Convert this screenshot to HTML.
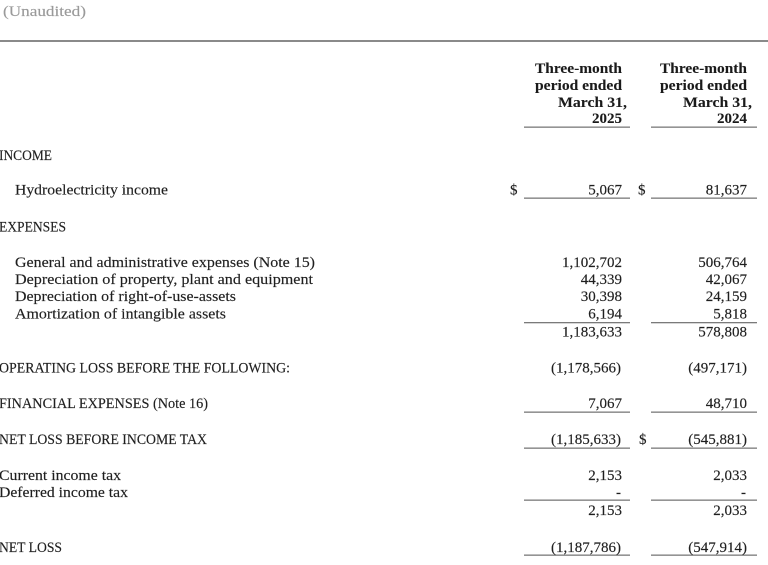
<!DOCTYPE html>
<html><head><meta charset="utf-8"><style>
html,body{margin:0;padding:0;background:#fff;}
svg{display:block;}
text{font-family:"Liberation Serif",serif;font-size:15px;fill:#1f1f1f;stroke:#1f1f1f;stroke-width:0.15;}
.b{font-weight:bold;fill:#1a1a1a;stroke-width:0.1;}
.g{fill:#9a9a9a;stroke:#9a9a9a;}
.r{text-anchor:end;}
</style></head><body>
<svg width="768" height="565" viewBox="0 0 768 565" xmlns="http://www.w3.org/2000/svg">
<rect width="768" height="565" fill="#fff"/>
<text class="g" x="3" y="16" textLength="83" lengthAdjust="spacingAndGlyphs">(Unaudited)</text>
<rect x="0" y="40" width="768" height="2" fill="#8a8a8a"/>

<!-- headers -->
<text class="b" x="535" y="73" textLength="87" lengthAdjust="spacingAndGlyphs">Three-month</text>
<text class="b" x="535" y="90" textLength="87" lengthAdjust="spacingAndGlyphs">period ended</text>
<text class="b" x="558" y="107" textLength="69" lengthAdjust="spacingAndGlyphs">March 31,</text>
<text class="b r" x="622" y="123">2025</text>
<text class="b" x="660" y="73" textLength="87" lengthAdjust="spacingAndGlyphs">Three-month</text>
<text class="b" x="660" y="90" textLength="87" lengthAdjust="spacingAndGlyphs">period ended</text>
<text class="b" x="683" y="107" textLength="69" lengthAdjust="spacingAndGlyphs">March 31,</text>
<text class="b r" x="747" y="123">2024</text>

<g fill="#7a7a7a">
<rect x="524" y="126.5" width="106" height="1.3"/>
<rect x="651" y="126.5" width="106" height="1.3"/>
<rect x="524" y="197.5" width="106" height="1.3"/>
<rect x="651" y="197.5" width="106" height="1.3"/>
<rect x="524" y="322" width="106" height="1.3"/>
<rect x="651" y="322" width="106" height="1.3"/>
<rect x="524" y="411.5" width="106" height="1.3"/>
<rect x="651" y="411.5" width="106" height="1.3"/>
<rect x="524" y="447.5" width="106" height="1.3"/>
<rect x="651" y="447.5" width="106" height="1.3"/>
<rect x="524" y="499.5" width="106" height="1.3"/>
<rect x="651" y="499.5" width="106" height="1.3"/>
<rect x="524" y="554.5" width="106" height="1.3"/>
<rect x="651" y="554.5" width="106" height="1.3"/>
</g>

<!-- labels -->
<text x="-1" y="160" textLength="53" lengthAdjust="spacingAndGlyphs">INCOME</text>
<text x="15" y="194.5" textLength="153" lengthAdjust="spacingAndGlyphs">Hydroelectricity income</text>
<text x="-1" y="231.5" textLength="67" lengthAdjust="spacingAndGlyphs">EXPENSES</text>
<text x="15" y="267" textLength="300" lengthAdjust="spacingAndGlyphs">General and administrative expenses (Note 15)</text>
<text x="15" y="284" textLength="298" lengthAdjust="spacingAndGlyphs">Depreciation of property, plant and equipment</text>
<text x="15" y="301" textLength="221" lengthAdjust="spacingAndGlyphs">Depreciation of right-of-use-assets</text>
<text x="15" y="318.5" textLength="211" lengthAdjust="spacingAndGlyphs">Amortization of intangible assets</text>
<text x="-1" y="372.5" textLength="291" lengthAdjust="spacingAndGlyphs">OPERATING LOSS BEFORE THE FOLLOWING:</text>
<text x="-1" y="408" textLength="209" lengthAdjust="spacingAndGlyphs">FINANCIAL EXPENSES (Note 16)</text>
<text x="-1" y="444" textLength="208" lengthAdjust="spacingAndGlyphs">NET LOSS BEFORE INCOME TAX</text>
<text x="-1" y="480" textLength="122" lengthAdjust="spacingAndGlyphs">Current income tax</text>
<text x="-1" y="497" textLength="129" lengthAdjust="spacingAndGlyphs">Deferred income tax</text>
<text x="-1" y="552" textLength="63" lengthAdjust="spacingAndGlyphs">NET LOSS</text>

<!-- dollar signs -->
<text x="510" y="194.5">$</text>
<text x="638" y="194.5">$</text>
<text x="639" y="444">$</text>

<!-- col1 -->
<g>
<text class="r" x="622" y="194.5">5,067</text>
<text class="r" x="622" y="267">1,102,702</text>
<text class="r" x="622" y="284">44,339</text>
<text class="r" x="622" y="301">30,398</text>
<text class="r" x="622" y="318.5">6,194</text>
<text class="r" x="622" y="336.5">1,183,633</text>
<text class="r" x="621" y="372.5">(1,178,566)</text>
<text class="r" x="622" y="408">7,067</text>
<text class="r" x="621" y="444">(1,185,633)</text>
<text class="r" x="622" y="480">2,153</text>
<text class="r" x="621" y="497">-</text>
<text class="r" x="622" y="515">2,153</text>
<text class="r" x="621" y="552">(1,187,786)</text>
</g>
<!-- col2 -->
<g>
<text class="r" x="747" y="194.5">81,637</text>
<text class="r" x="747" y="267">506,764</text>
<text class="r" x="747" y="284">42,067</text>
<text class="r" x="747" y="301">24,159</text>
<text class="r" x="747" y="318.5">5,818</text>
<text class="r" x="747" y="336.5">578,808</text>
<text class="r" x="747" y="372.5">(497,171)</text>
<text class="r" x="747" y="408">48,710</text>
<text class="r" x="747" y="444">(545,881)</text>
<text class="r" x="747" y="480">2,033</text>
<text class="r" x="746" y="497">-</text>
<text class="r" x="747" y="515">2,033</text>
<text class="r" x="747" y="552">(547,914)</text>
</g>
</svg>
</body></html>
